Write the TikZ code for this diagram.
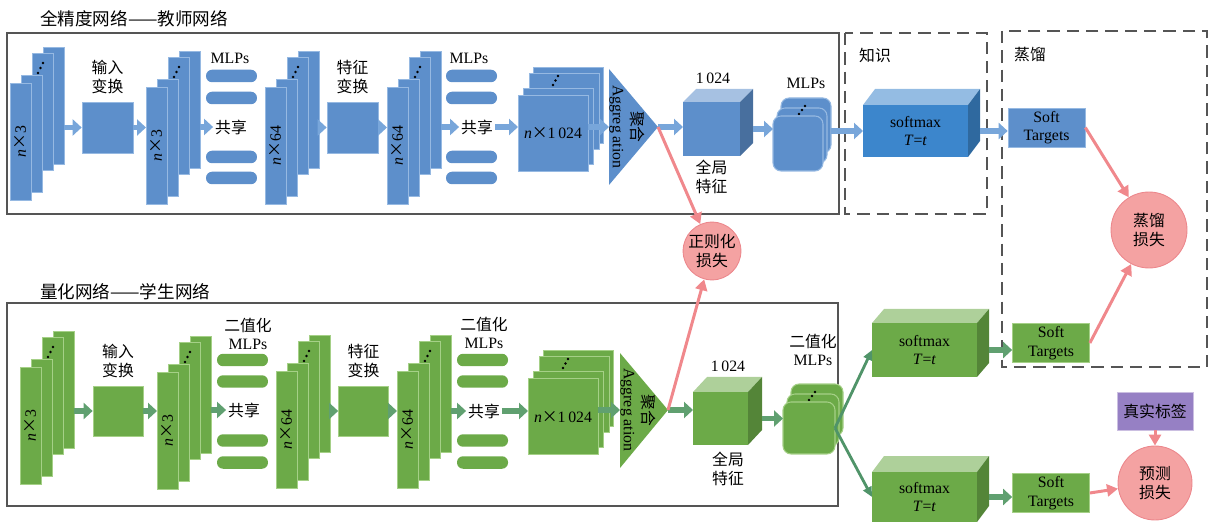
\documentclass[tikz,border=0pt]{standalone}
\usepackage{fontspec}
\setmainfont{Liberation Serif}
\newfontfamily\cjk{Noto Sans CJK SC}
\usepackage{xcolor}
\usepackage{tikz}
\usetikzlibrary{arrows.meta, positioning}

\definecolor{tblue}{RGB}{93,143,203}
\definecolor{tline}{RGB}{150,185,226}
\definecolor{tarrow}{RGB}{120,166,218}
\definecolor{tsoft}{RGB}{60,134,204}
\definecolor{sgreen}{RGB}{108,170,72}
\definecolor{sline}{RGB}{165,208,135}
\definecolor{sarrow}{RGB}{96,160,112}
\definecolor{gline}{RGB}{80,148,105}
\definecolor{lossred}{RGB}{244,162,162}
\definecolor{lossline}{RGB}{236,135,140}
\definecolor{parrow}{RGB}{240,136,140}
\definecolor{labpurple}{RGB}{150,128,196}
\definecolor{framegray}{RGB}{85,85,85}

\newcommand{\fs}{\fontsize{9}{10.5}\selectfont}
\newcommand{\fsl}{\fontsize{10}{12}\selectfont}
\newcommand{\bx}{{\cjk ×}}

% stack of four slabs, front one named #1
\newcommand{\slabstack}[5]{%
  \node[#4, anchor=north west] (#1-back) at (#2+33,#3-36) {};
  \node[#4, anchor=north west] (#1-c) at (#2+22,#3-30) {};
  \fill (#2+28,#3-10) circle (0.8pt) (#2+30.5,#3-15) circle (0.8pt) (#2+33,#3-20) circle (0.8pt);
  \node[#4, anchor=north west] (#1-b) at (#2+11,#3-8) {};
  \node[#4, anchor=north west] (#1) at (#2,#3) {};
  \node[rotate=90] (#1-txt) at (#1.center) {#5};
}
% stack of square maps
\newcommand{\sqstack}[4]{%
  \node[#4, anchor=north west] (#1-back) at (#2+15,#3-28) {};
  \node[#4, anchor=north west] (#1-c) at (#2+11,#3-22) {};
  \fill (#2+35,#3-10) circle (0.8pt) (#2+37.5,#3-14.5) circle (0.8pt) (#2+40,#3-19) circle (0.8pt);
  \node[#4, anchor=north west] (#1-b) at (#2+5,#3-7) {};
  \node[#4, anchor=north west] (#1) at (#2,#3) {};
}
% stack of rounded MLP blocks
\newcommand{\mlpstack}[4]{%
  \node[#4, anchor=north west] (#1-back) at (#2+8,#3-18) {};
  \node[#4, anchor=north west] (#1-b) at (#2+4,#3-8) {};
  \fill (#2+26,#3-2) circle (0.8pt) (#2+29,#3-6) circle (0.8pt) (#2+32,#3-10) circle (0.8pt);
  \node[#4, anchor=north west] (#1) at (#2,#3) {};
}
% box with top and side faces
\newcommand{\cuboid}[9]{%
  \fill[#8!55!white] (#2,#3) -- ++(#6,-#7) -- ++(#4,0) -- ++(-#6,#7) -- cycle;
  \fill[#8!78!black] (#2+#4,#3) -- ++(#6,-#7) -- ++(0,#5) -- ++(-#6,#7) -- cycle;
  \node[fill=#8, anchor=north west, inner sep=0, outer sep=0, align=center,
        minimum width=#4*0.02cm, minimum height=#5*0.02cm] (#1) at (#2,#3) {#9};
  \coordinate (#1-side) at (#2+#4+#6,#3+#5/2);
}

\begin{document}
\begin{tikzpicture}[
  x=0.02cm, y=-0.02cm, font=\fs,
  tslab/.style={draw=tline, fill=tblue, line width=0.5pt, minimum width=0.42cm,
                minimum height=2.34cm, inner sep=0, outer sep=0},
  sslab/.style={tslab, draw=sline, fill=sgreen},
  tsq/.style={draw=tline, fill=tblue, line width=0.5pt, minimum width=1.4cm,
              minimum height=1.52cm, inner sep=0, outer sep=0},
  ssq/.style={tsq, draw=sline, fill=sgreen},
  tmlps/.style={draw=tline, fill=tblue, line width=0.6pt, rounded corners=0.16cm,
                minimum width=1.0cm, minimum height=1.1cm, inner sep=0, outer sep=0},
  smlps/.style={tmlps, draw=sline, fill=sgreen, minimum width=1.04cm, minimum height=1.04cm},
  tbox/.style={draw=tline, fill=tblue, minimum size=1.02cm, inner sep=0},
  sbox/.style={draw=sline, fill=sgreen, minimum size=1.0cm, inner sep=0},
  pill/.style={rounded corners=0.12cm, minimum width=1.02cm, minimum height=0.25cm, inner sep=0},
  zh/.style={font=\fs\cjk, align=center, inner sep=1pt},
  title/.style={font=\fsl\cjk, anchor=west},
  target/.style={minimum width=1.54cm, minimum height=0.78cm, inner sep=0, align=center},
  loss/.style={circle, fill=lossred, draw=lossline, line width=0.5pt, font=\fs\cjk,
               align=center, inner sep=0},
  tarr/.style={-{Triangle[length=0.18cm, width=0.32cm]}, line width=3.2pt, draw=tarrow},
  sarr/.style={tarr, draw=sarrow},
  garr/.style={-{Triangle[length=0.2cm, width=0.18cm]}, line width=1.6pt, draw=gline},
  parr/.style={-{Triangle[length=0.22cm, width=0.24cm]}, line width=1.7pt, draw=parrow},
  frame/.style={draw=framegray, line width=0.9pt},
  dframe/.style={draw=framegray, line width=1.3pt, dash pattern=on 7pt off 4pt}
]
\useasboundingbox (0,0) rectangle (1219,526);

% frames
\draw[frame] (7,33) rectangle (839,214);
\node[title] (ttitle) at (34,19) {全精度网络——教师网络};
\draw[dframe] (845,33) rectangle (987,214);
\node[zh] (know) at (875,55) {知识};
\draw[dframe] (1002,31) rectangle (1207,367);
\node[zh] (distil) at (1030,55) {蒸馏};
\draw[frame] (7,303) rectangle (838,506);
\node[title] (stitle) at (34,292) {量化网络——学生网络};

% teacher network
\slabstack{t1}{10}{83}{tslab}{\textit{n}\bx 3}
\node[tbox] (tin) at (107.5,127.5) {};
\node[zh, above=0.12cm of tin] (tinlab) {输入\\变换};
\slabstack{t2}{146}{87}{tslab}{\textit{n}\bx 3}
\node (tmlp1lab) at (230,58) {MLPs};
\node[pill, fill=tblue] (tp1) at (231.5,76) {};
\node[pill, fill=tblue] (tp2) at (231.5,98) {};
\node[zh] (tsh1) at (231,127) {共享};
\node[pill, fill=tblue] (tp3) at (231.5,157) {};
\node[pill, fill=tblue] (tp4) at (231.5,178) {};
\slabstack{t3}{265}{87}{tslab}{\textit{n}\bx 64}
\node[tbox] (tft) at (352.5,127.5) {};
\node[zh, above=0.12cm of tft] (tftlab) {特征\\变换};
\slabstack{t4}{387}{87}{tslab}{\textit{n}\bx 64}
\node (tmlp2lab) at (469,58) {MLPs};
\node[pill, fill=tblue] (tq1) at (471.5,76) {};
\node[pill, fill=tblue] (tq2) at (471.5,98) {};
\node[zh] (tsh2) at (477,127) {共享};
\node[pill, fill=tblue] (tq3) at (471.5,157) {};
\node[pill, fill=tblue] (tq4) at (471.5,178) {};
\sqstack{t5}{518}{95}{tsq}
\node (t5txt) at (553,133) {\textit{n}\bx 1\,024};
\fill[tblue] (609,69) -- (609,185) -- (658,127) -- cycle;
\coordinate (tagg-in) at (609,127);
\coordinate (tagg-tip) at (658,127);
\node[zh, rotate=-90] (tagg) at (627,127) {聚合\\{\rmfamily Aggreg ation}};
\cuboid{tcube}{683}{102}{57}{54}{13}{13}{tblue}{}
\node (tcubelab) at (713,78) {1\,024};
\node[zh, below=0.04cm of tcube] (tglob) {全局\\特征};
\mlpstack{tmlp}{773}{116}{tmlps}
\node[above=0.06cm of tmlp-back] (tmlplab) {MLPs};
\cuboid{tsm}{863}{105}{105}{52}{12}{16}{tsoft}{softmax\\\textit{T}=\textit{t}}
\node[target, draw=tline, fill=tblue] (tst) at (1046.5,127.5) {Soft\\Targets};

\draw[tarr] (t1-back.east |- tin.west) -- (tin.west);
\draw[tarr] (tin.east) -- (t2.west |- tin.east);
\draw[tarr] (t2-back.east |- tsh1.west) -- (tsh1.west);
\draw[tarr] (t3-back.east |- tft.west) -- (tft.west);
\draw[tarr] (tft.east) -- (t4.west |- tft.east);
\draw[tarr] (t4-back.east |- tsh2.west) -- (tsh2.west);
\draw[tarr] (tsh2.east) -- (t5.west |- tsh2.east);
\draw[tarr] (t5.east |- tagg-in) -- (tagg-in);
\draw[tarr] (tagg-tip) -- (tcube.west |- tagg-tip);
\draw[tarr] (tcube-side) -- (tmlp.west |- tcube-side);
\draw[tarr] (tmlp-back.east |- tsm.west) -- (tsm.west);
\draw[tarr] (tsm-side) -- (tst.west |- tsm-side);

% student network
\slabstack{s1}{20}{367}{sslab}{\textit{n}\bx 3}
\node[sbox] (sin) at (118,411) {};
\node[zh, above=0.12cm of sin] (sinlab) {输入\\变换};
\slabstack{s2}{157}{372}{sslab}{\textit{n}\bx 3}
\node[zh] (smlp1lab) at (248,334) {二值化\\{\rmfamily MLPs}};
\node[pill, fill=sgreen] (sp1) at (242.5,360) {};
\node[pill, fill=sgreen] (sp2) at (242.5,381.5) {};
\node[zh] (ssh1) at (244,410) {共享};
\node[pill, fill=sgreen] (sp3) at (242.5,440.5) {};
\node[pill, fill=sgreen] (sp4) at (242.5,462.5) {};
\slabstack{s3}{276}{371}{sslab}{\textit{n}\bx 64}
\node[sbox] (sft) at (363.5,411) {};
\node[zh, above=0.12cm of sft] (sftlab) {特征\\变换};
\slabstack{s4}{397}{371}{sslab}{\textit{n}\bx 64}
\node[zh] (smlp2lab) at (484,333) {二值化\\{\rmfamily MLPs}};
\node[pill, fill=sgreen] (sq1) at (482.5,360) {};
\node[pill, fill=sgreen] (sq2) at (482.5,381.5) {};
\node[zh] (ssh2) at (484,411) {共享};
\node[pill, fill=sgreen] (sq3) at (482.5,440.5) {};
\node[pill, fill=sgreen] (sq4) at (482.5,462.5) {};
\sqstack{s5}{528}{378}{ssq}
\node (s5txt) at (563,417) {\textit{n}\bx 1\,024};
\fill[sgreen] (620,353) -- (620,468) -- (668,410) -- cycle;
\coordinate (sagg-in) at (620,410);
\coordinate (sagg-tip) at (668,410);
\node[zh, rotate=-90] (sagg) at (638,410) {聚合\\{\rmfamily Aggreg ation}};
\cuboid{scube}{693}{392}{55}{53}{14}{15}{sgreen}{}
\node (scubelab) at (728,366) {1\,024};
\node[zh] (sglob) at (728,469) {全局\\特征};
\mlpstack{smlp}{783}{402}{smlps}
\node[zh] (smlplab) at (813,350) {二值化\\{\rmfamily MLPs}};
\cuboid{ssm1}{872}{323}{105}{54}{12}{14}{sgreen}{softmax\\\textit{T}=\textit{t}}
\node[target, draw=sline, fill=sgreen] (sst1) at (1051,343) {Soft\\Targets};
\cuboid{ssm2}{872}{472}{105}{50}{12}{16}{sgreen}{softmax\\\textit{T}=\textit{t}}
\node[target, draw=sline, fill=sgreen] (sst2) at (1051,493) {Soft\\Targets};

\draw[sarr] (s1-back.east |- sin.west) -- (sin.west);
\draw[sarr] (sin.east) -- (s2.west |- sin.east);
\draw[sarr] (s2-back.east |- ssh1.west) -- (ssh1.west);
\draw[sarr] (s3-back.east |- sft.west) -- (sft.west);
\draw[sarr] (sft.east) -- (s4.west |- sft.east);
\draw[sarr] (s4-back.east |- ssh2.west) -- (ssh2.west);
\draw[sarr] (ssh2.east) -- (s5.west |- ssh2.east);
\draw[sarr] (s5.east |- sagg-in) -- (sagg-in);
\draw[sarr] (sagg-tip) -- (scube.west |- sagg-tip);
\draw[sarr] (scube-side) -- (smlp.west |- scube-side);
\draw[garr] (smlp.east) -- (ssm1.west);
\draw[garr] (smlp.east) -- (ssm2.west);
\draw[sarr] (ssm1-side) -- (sst1.west |- ssm1-side);
\draw[sarr] (ssm2-side) -- (sst2.west |- ssm2-side);

% losses
\node[loss, minimum size=1.52cm] (dloss) at (1149,230) {蒸馏\\损失};
\node[loss, minimum size=1.14cm] (reg) at (712,251) {正则化\\损失};
\node[loss, minimum size=1.48cm] (ploss) at (1155,483) {预测\\损失};
\node[fill=labpurple, draw=labpurple!50!white, minimum width=1.52cm, minimum height=0.76cm,
      inner sep=0, font=\fs\cjk] (truth) at (1155,411) {真实标签};

\draw[parr] (tagg-tip) -- (reg);
\draw[parr] (sagg-tip) -- (reg);
\draw[parr] (tst.east) -- (dloss);
\draw[parr] (sst1.east) -- (dloss);
\draw[parr] (sst2.east) -- (ploss);
\draw[parr] (truth.south) -- (ploss);

\end{tikzpicture}
\end{document}
